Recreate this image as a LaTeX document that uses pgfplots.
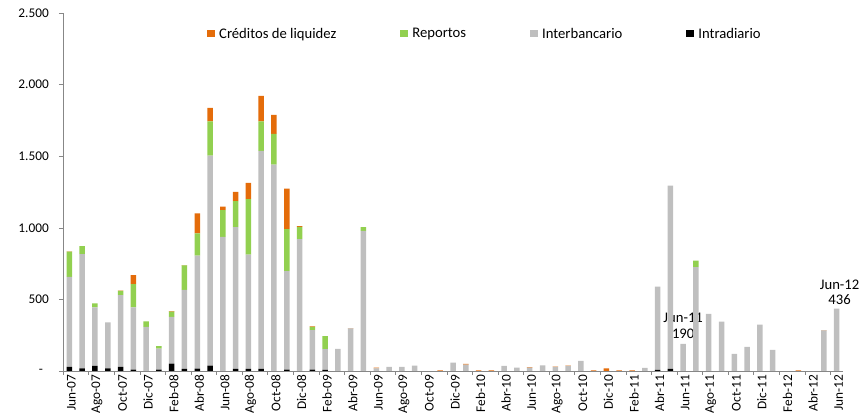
\documentclass[border=0pt]{standalone}
\usepackage{pgfplots}
\pgfplotsset{compat=1.18}
\usepackage{pgfplotstable}
\usepackage{fontspec}
\setmainfont{Carlito}

\definecolor{cred}{HTML}{E46C0A}
\definecolor{repo}{HTML}{92D050}
\definecolor{inter}{HTML}{BFBFBF}
\definecolor{intra}{HTML}{000000}
\definecolor{axisgray}{HTML}{878787}

% idx: 0 = Jun-07 ... 60 = Jun-12
\pgfplotstableread{
idx intra inter repo cred
0  28  630  175 3
1  19  797  56  0
2  35  410  28  0
3  19  321  0   0
4  28  501  31  2
5  9   436  161 63
6  0   308  39  0
7  9   147  17  0
8  51  327  37  3
9  14  553  170 3
10 16  789  156 140
11 37  1467 240 94
12 0   937  187 23
13 14  991  182 63
14 14  798  389 112
15 14  1523 207 178
16 0   1441 215 133
17 9   688  294 282
18 0   921  86  5
19 9   276  23  4
20 7   145  91  0
21 0   154  0   0
22 0   298  0   2
23 0   979  26  0
24 0   19   0   4
25 0   28   0   0
26 0   28   0   0
27 0   37   0   0
28 0   0    0   0
29 0   0    0   4
30 0   58   0   0
31 0   44   0   5
32 0   0    0   5
33 0   0    0   4
34 0   35   0   0
35 0   23   0   0
36 0   23   0   4
37 0   40   0   0
38 0   28   0   3
39 0   35   0   3
40 0   70   0   0
41 0   0    0   5
42 0   0    0   18
43 0   0    0   4
44 0   0    0   5
45 0   21   0   0
46 7   583  0   0
47 14  1280 0   0
48 0   190  0   0
49 0   725  45  0
50 0   399  0   0
51 0   345  0   0
52 0   119  0   0
53 0   168  0   0
54 0   324  0   0
55 0   147  0   0
56 0   0    0   0
57 0   0    0   4
58 0   0    0   0
59 0   283  0   3
60 0   436  0   0
}\datatable

\begin{document}
\begin{tikzpicture}
\begin{axis}[
    scale only axis,
    width=780pt, height=358pt,
    xmin=-0.5, xmax=60.5,
    ymin=0, ymax=2500,
    clip=false,
    ybar stacked, bar width=5.5pt,
    axis x line*=bottom, axis y line*=left,
    axis line style={draw=axisgray},
    tick align=outside,
    major tick length=4pt, minor tick length=4pt,
    xtick={0,2,...,60},
    xticklabels={Jun-07,Ago-07,Oct-07,Dic-07,Feb-08,Abr-08,Jun-08,Ago-08,Oct-08,Dic-08,Feb-09,Abr-09,Jun-09,Ago-09,Oct-09,Dic-09,Feb-10,Abr-10,Jun-10,Ago-10,Oct-10,Dic-10,Feb-11,Abr-11,Jun-11,Ago-11,Oct-11,Dic-11,Feb-12,Abr-12,Jun-12},
    minor xtick={-0.5,1.5,...,59.5},
    x tick style={draw=none},
    minor x tick style={draw=axisgray},
    xticklabel style={rotate=90, anchor=east, font=\fontsize{13.3}{15}\selectfont, inner sep=0pt, yshift=-2pt},
    ytick={0,500,1000,1500,2000,2500},
    yticklabels={\makebox[10pt][l]{-},500,1.000,1.500,2.000,2.500},
    y tick style={draw=axisgray},
    yticklabel style={font=\fontsize{13.3}{15}\selectfont, inner sep=0pt, xshift=-10pt},
    legend style={draw=none, fill=none, at={(rel axis cs:0.1846,0.942)}, anchor=west,
        font=\fontsize{14.67}{16}\selectfont, legend columns=-1, inner sep=0pt,
        nodes={inner sep=0pt},
        /tikz/every odd column/.append style={column sep=4pt},
        /tikz/every even column/.append style={column sep=64pt}},
    legend image code/.code={\fill[#1] (0pt,-3pt) rectangle (8pt,4pt);},
    reverse legend,
    every axis plot/.append style={draw=none},
]
\addplot[fill=intra] table[x=idx, y=intra] {\datatable};
\addlegendentry{Intradiario}
\addplot[fill=inter] table[x=idx, y=inter] {\datatable};
\addlegendentry{Interbancario}
\addplot[fill=repo] table[x=idx, y=repo] {\datatable};
\addlegendentry{Reportos}
\addplot[fill=cred] table[x=idx, y=cred] {\datatable};
\addlegendentry{Créditos de liquidez}
\node[anchor=base, align=center, font=\fontsize{14.67}{15.5}\selectfont, inner sep=0pt] at (axis cs:48,230) {Jun-11\\190};
\node[anchor=base, align=center, font=\fontsize{14.67}{15.5}\selectfont, inner sep=0pt, xshift=3pt] at (axis cs:60,461) {Jun-12\\436};
\end{axis}
\pgfresetboundingbox
\useasboundingbox (-63pt,-48pt) rectangle (797pt,371pt);
\end{tikzpicture}
\end{document}
